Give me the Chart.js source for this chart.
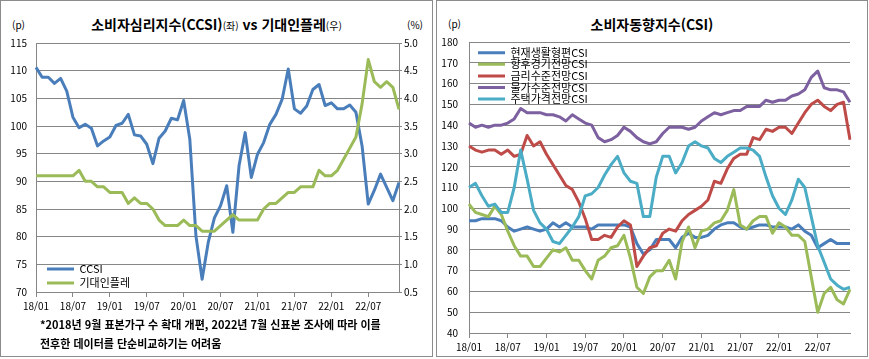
<!DOCTYPE html>
<html lang="ko">
<head>
<meta charset="utf-8">
<script src="https://cdn.jsdelivr.net/npm/chart.js@4.4.1/dist/chart.umd.min.js"></script>
<style>
  body { margin: 0; background: #fff; font-family: 'Noto Sans CJK KR', sans-serif; color: #000; }
  .panel { position: absolute; top: 0; height: 357px; border: 1px solid #8c8c8c; box-sizing: border-box; }
  .title { position: absolute; top: 14px; text-align: center; font-weight: bold; font-size: 14px; line-height: 20px; }
  .title small { font-size: 10px; font-weight: normal; }
  .unit { position: absolute; font-size: 10px; line-height: 12px; }
  .note { position: absolute; left: 40px; top: 315px; font-weight: bold; font-size: 11px; line-height: 19px; }
  canvas { position: absolute; top: 0; }
</style>
</head>
<body>
<div class="panel" style="left:0;width:433px"></div>
<div class="panel" style="left:436px;width:432px"></div>

<div class="title" style="left:0;width:433px">소비자심리지수(CCSI)<small>(좌)</small> vs 기대인플레<small>(우)</small></div>
<div class="unit" style="left:12px;top:19px">(p)</div>
<div class="unit" style="left:407px;top:19px">(%)</div>
<canvas id="ccsiChart" width="433" height="320" style="left:0"></canvas>
<div class="note">*2018년 9월 표본가구 수 확대 개편, 2022년 7월 신표본 조사에 따라 이를<br>전후한 데이터를 단순비교하기는 어려움</div>

<div class="title" style="left:436px;width:432px">소비자동향지수(CSI)</div>
<div class="unit" style="left:448px;top:18px">(p)</div>
<canvas id="csiChart" width="432" height="359" style="left:436px"></canvas>

<script>
// 월 (18/01 ~ 22/12)
const months = [
  '18/01','18/02','18/03','18/04','18/05','18/06','18/07','18/08','18/09','18/10','18/11','18/12',
  '19/01','19/02','19/03','19/04','19/05','19/06','19/07','19/08','19/09','19/10','19/11','19/12',
  '20/01','20/02','20/03','20/04','20/05','20/06','20/07','20/08','20/09','20/10','20/11','20/12',
  '21/01','21/02','21/03','21/04','21/05','21/06','21/07','21/08','21/09','21/10','21/11','21/12',
  '22/01','22/02','22/03','22/04','22/05','22/06','22/07','22/08','22/09','22/10','22/11','22/12'
];

// 소비자심리지수 (p)
const ccsi = [
  110.6, 108.8, 108.8, 107.7, 108.6, 106.3, 101.6, 99.7, 100.3, 99.6, 96.4, 97.3,
  98.0, 100.1, 100.5, 102.1, 98.4, 98.2, 96.7, 93.2, 97.8, 99.1, 101.4, 101.1,
  104.6, 97.6, 80.1, 72.3, 79.0, 83.4, 85.6, 89.2, 80.8, 92.8, 98.8, 90.7,
  94.9, 97.0, 100.3, 102.1, 104.8, 110.3, 103.1, 102.3, 103.6, 106.6, 107.5, 103.7,
  104.2, 103.1, 103.1, 103.8, 102.5, 96.4, 85.9, 88.4, 91.3, 88.9, 86.5, 89.8
];

// 기대인플레이션율 (%)
const expInfl = [
  2.6, 2.6, 2.6, 2.6, 2.6, 2.6, 2.6, 2.7, 2.5, 2.5, 2.4, 2.4,
  2.3, 2.3, 2.3, 2.1, 2.2, 2.1, 2.1, 2.0, 1.8, 1.7, 1.7, 1.7,
  1.8, 1.7, 1.7, 1.6, 1.6, 1.6, 1.7, 1.8, 1.9, 1.8, 1.8, 1.8,
  1.8, 2.0, 2.1, 2.1, 2.2, 2.3, 2.3, 2.4, 2.4, 2.4, 2.7, 2.6,
  2.6, 2.7, 2.9, 3.1, 3.3, 3.9, 4.7, 4.3, 4.2, 4.3, 4.2, 3.8
];

// CSI 항목별
const livingCsi = [
  94, 94, 95, 95, 95, 94, 91, 89, 90, 91, 90, 89,
  90, 93, 91, 93, 91, 91, 91, 90, 92, 92, 92, 92,
  92, 91, 83, 78, 80, 85, 85, 85, 81, 86, 88, 86,
  86, 87, 90, 92, 93, 93, 91, 90, 91, 92, 92, 91,
  91, 91, 90, 92, 89, 87, 81, 83, 85, 83, 83, 83
];
const outlookCsi = [
  102, 98, 97, 96, 101, 97, 89, 82, 77, 77, 72, 72,
  76, 80, 79, 81, 75, 75, 70, 66, 75, 77, 81, 82,
  87, 76, 62, 59, 67, 70, 70, 75, 66, 84, 91, 81,
  89, 90, 93, 94, 99, 109, 92, 90, 94, 96, 96, 88,
  93, 91, 87, 87, 84, 67, 50, 59, 62, 56, 54, 61
];
const rateCsi = [
  130, 128, 127, 128, 128, 126, 128, 125, 126, 135, 130, 132,
  126, 121, 116, 111, 109, 103, 95, 85, 85, 87, 86, 91,
  94, 92, 72, 77, 81, 82, 88, 90, 89, 94, 97, 99,
  101, 104, 113, 112, 119, 124, 126, 126, 134, 133, 138, 137,
  139, 139, 136, 141, 146, 150, 152, 149, 147, 150, 151, 133
];
const priceCsi = [
  141, 139, 140, 139, 140, 140, 141, 143, 148, 146, 146, 146,
  145, 145, 144, 142, 145, 143, 141, 140, 134, 132, 133, 135,
  139, 137, 134, 132, 131, 132, 136, 139, 139, 139, 138, 139,
  142, 144, 146, 145, 146, 147, 147, 149, 149, 149, 152, 151,
  152, 152, 154, 155, 157, 163, 166, 158, 157, 157, 156, 151
];
const houseCsi = [
  110, 112, 106, 101, 102, 98, 98, 110, 128, 114, 99, 93,
  90, 84, 83, 87, 91, 96, 106, 107, 110, 116, 121, 125,
  117, 113, 112, 96, 96, 115, 125, 125, 117, 122, 130, 132,
  130, 129, 124, 122, 125, 127, 129, 129, 128, 125, 115, 106,
  100, 97, 104, 114, 110, 96, 82, 74, 66, 63, 61, 62
];

const gridColor = '#868686';
const tickFont = { family: "'Noto Sans CJK KR', sans-serif", size: 10 };

// 범례를 그래프 안쪽 원하는 자리로 옮김
const legendSpot = {
  id: 'legendSpot',
  beforeDraw(chart, args, opts) {
    const lg = chart.legend;
    if (!lg || opts.x == null) return;
    lg.left = opts.x; lg.right = opts.x + lg.width;
    lg.top = opts.y; lg.bottom = opts.y + 200;
  }
};

function lineSet(label, data, color, order, axis) {
  return {
    label, data, order,
    yAxisID: axis || 'y',
    borderColor: color, backgroundColor: color,
    borderWidth: 3, pointRadius: 0, tension: 0,
    borderJoinStyle: 'round', fill: false
  };
}

function xAxis() {
  return {
    grid: { drawOnChartArea: false, drawTicks: true, tickLength: 5, color: gridColor },
    border: { color: gridColor },
    ticks: {
      autoSkip: false, maxRotation: 0, padding: 3, color: '#000', font: tickFont,
      callback: (v, i) => (i % 6 === 0 ? months[i] : null)
    }
  };
}

function legendOpts(size, pad) {
  return {
    position: 'chartArea', align: 'start',
    labels: {
      usePointStyle: true, pointStyle: 'line', pointStyleWidth: 27,
      font: { family: "'Noto Sans CJK KR', sans-serif", size: size },
      padding: pad, color: '#000',
      sort: (a, b) => a.datasetIndex - b.datasetIndex
    }
  };
}

new Chart(document.getElementById('ccsiChart'), {
  type: 'line',
  data: {
    labels: months,
    datasets: [
      lineSet('CCSI', ccsi, '#4a7ebb', 2, 'y'),
      lineSet('기대인플레', expInfl, '#9bbb59', 1, 'y1')
    ]
  },
  options: {
    responsive: false, animation: false,
    layout: { padding: { top: 43 } },
    plugins: {
      legend: legendOpts(11, 3),
      legendSpot: { x: 44, y: 260.5 },
      tooltip: { enabled: false }
    },
    scales: {
      x: Object.assign(xAxis(), { afterFit: s => { s.height = 28; } }),
      y: {
        position: 'left', min: 70, max: 115,
        grid: { color: gridColor, drawTicks: false },
        border: { color: gridColor },
        ticks: { stepSize: 5, padding: 9, color: '#000', font: tickFont },
        afterFit: s => { s.width = 36; }
      },
      y1: {
        position: 'right', min: 0.5, max: 5.0,
        grid: { drawOnChartArea: false, drawTicks: true, tickLength: 3, color: gridColor },
        border: { color: gridColor },
        ticks: { stepSize: 0.5, padding: 2, color: '#000', font: tickFont,
                 callback: v => Number(v).toFixed(1) },
        afterFit: s => { s.width = 34; }
      }
    }
  },
  plugins: [legendSpot]
});

new Chart(document.getElementById('csiChart'), {
  type: 'line',
  data: {
    labels: months,
    datasets: [
      lineSet('현재생활형편CSI', livingCsi, '#4a7ebb', 5),
      lineSet('향후경기전망CSI', outlookCsi, '#9bbb59', 4),
      lineSet('금리수준전망CSI', rateCsi, '#be4b48', 3),
      lineSet('물가수준전망CSI', priceCsi, '#7d60a0', 2),
      lineSet('주택가격전망CSI', houseCsi, '#4bacc6', 1)
    ]
  },
  options: {
    responsive: false, animation: false,
    layout: { padding: { top: 42, right: 18 } },
    plugins: {
      legend: legendOpts(11, 0.6),
      legendSpot: { x: 41.4, y: 46.6 },
      tooltip: { enabled: false }
    },
    scales: {
      x: Object.assign(xAxis(), { afterFit: s => { s.height = 26; } }),
      y: {
        min: 40, max: 180,
        grid: { color: gridColor, drawTicks: false },
        border: { color: gridColor },
        ticks: { stepSize: 10, padding: 11, color: '#000', font: tickFont },
        afterFit: s => { s.width = 33; }
      }
    }
  },
  plugins: [legendSpot]
});
</script>
</body>
</html>
